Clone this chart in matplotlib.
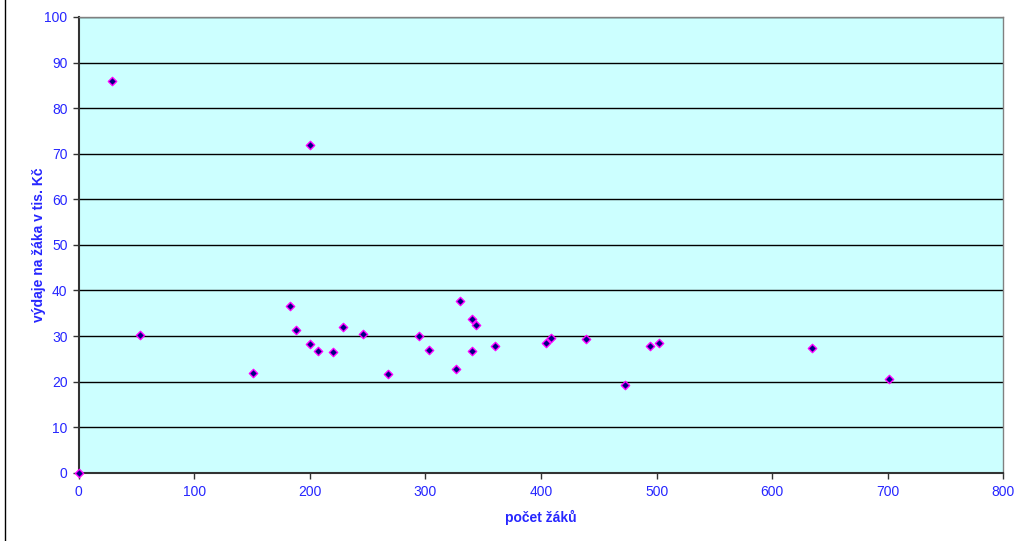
import numpy as np
import matplotlib.pyplot as plt
from matplotlib.lines import Line2D

plt.rcParams['font.family'] = ['Liberation Sans', 'DejaVu Sans']

# pocet zaku / vydaje na zaka v tis. Kc
pocet_zaku = [0, 29, 53, 151, 183, 188, 200, 200, 207, 220, 229, 246, 268, 294,
              303, 326, 330, 340, 344, 340, 360, 404, 409, 439, 473, 494, 502,
              634, 701]
vydaje = [0, 86.0, 30.2, 21.9, 36.6, 31.4, 28.2, 71.9, 26.8, 26.5, 32.0, 30.4,
          21.6, 30.0, 27.0, 22.7, 37.7, 33.7, 32.5, 26.8, 27.9, 28.4, 29.6, 29.4,
          19.2, 27.9, 28.5, 27.4, 20.5]

x_ticks = np.arange(0, 801, 100)
y_ticks = np.arange(0, 101, 10)

blue = '#2626ff'

fig = plt.figure(figsize=(10.23, 5.41), dpi=100)
ax = fig.add_axes([0.0769, 0.1262, 0.9040, 0.8424])
ax.set_facecolor('#ccffff')

ax.scatter(pocet_zaku, vydaje, marker='D', s=18, color='#000080',
           edgecolors='#ff00ff', linewidths=1.0, zorder=3, clip_on=False)

ax.set_xlim(0, 800)
ax.set_ylim(0, 100)
ax.set_xticks(x_ticks)
ax.set_yticks(y_ticks)
ax.yaxis.grid(True, color='black', linewidth=1.0)
ax.set_axisbelow(True)

ax.tick_params(colors='#333333', labelcolor=blue, labelsize=10, length=4,
               width=1)
ax.tick_params(axis='x', pad=5)
ax.tick_params(axis='y', pad=4)

for side in ['left', 'bottom']:
    ax.spines[side].set_color('#333333')
    ax.spines[side].set_linewidth(1.5)
for side in ['top', 'right']:
    ax.spines[side].set_color('#808080')
    ax.spines[side].set_linewidth(1.0)

ax.set_xlabel('počet žáků', color=blue, fontsize=10, fontweight='bold',
              labelpad=8)
ax.set_ylabel('výdaje na žáka v tis. Kč', color=blue, fontsize=10,
              fontweight='bold', labelpad=-1)

# okraj grafu vlevo
fig.add_artist(Line2D([0.005, 0.005], [0, 1], color='black', linewidth=1.0,
                      transform=fig.transFigure))

fig.savefig('out.png', dpi=100)
